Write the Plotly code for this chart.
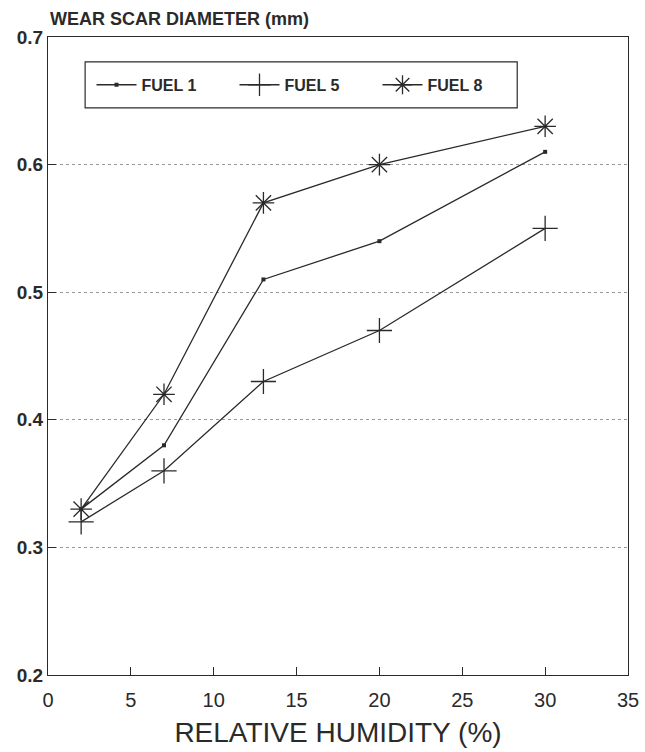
import plotly.graph_objects as go

humidity = [2, 7, 13, 20, 30]
fuel1 = [0.33, 0.38, 0.51, 0.54, 0.61]
fuel5 = [0.32, 0.36, 0.43, 0.47, 0.55]
fuel8 = [0.33, 0.42, 0.57, 0.60, 0.63]
series_names = ["FUEL 1", "FUEL 5", "FUEL 8"]
x_ticks = [0, 5, 10, 15, 20, 25, 30, 35]
y_ticks = [0.2, 0.3, 0.4, 0.5, 0.6, 0.7]

ink = "#2a2a2a"
font_family = "Liberation Sans, Arial, sans-serif"

fig = go.Figure()
fig.add_trace(go.Scatter(
    x=humidity, y=fuel1, name=series_names[0], mode="lines+markers",
    line=dict(color=ink, width=1.3),
    marker=dict(symbol="square", size=4, color=ink)))
fig.add_trace(go.Scatter(
    x=humidity, y=fuel5, name=series_names[1], mode="lines+markers",
    line=dict(color=ink, width=1.3),
    marker=dict(symbol="cross-thin-open", size=18, color=ink, line=dict(color=ink, width=1.3))))
fig.add_trace(go.Scatter(
    x=humidity, y=fuel8, name=series_names[2], mode="lines+markers",
    line=dict(color=ink, width=1.3),
    marker=dict(symbol="asterisk-open", size=18, color=ink, line=dict(color=ink, width=1.3))))

fig.update_layout(
    width=645, height=752,
    margin=dict(l=48, r=17, t=37, b=77),
    paper_bgcolor="white", plot_bgcolor="white",
    font=dict(family=font_family, color=ink),
    showlegend=True,
    legend=dict(
        orientation="h", x=0.075, y=0.925, xanchor="left", yanchor="middle",
        borderwidth=0, bgcolor="rgba(0,0,0,0)",
        font=dict(size=16, family=font_family, weight="bold", color=ink),
        entrywidth=88, itemwidth=40, tracegroupgap=0),
    shapes=[dict(
        type="rect", xref="paper", yref="paper",
        x0=0.064, x1=0.809, y0=0.889, y1=0.961,
        line=dict(color=ink, width=1.2), fillcolor="white", layer="below")],
    xaxis=dict(
        range=[0, 35], tickvals=x_ticks, ticktext=[str(v) for v in x_ticks],
        ticks="inside", ticklen=8, tickcolor=ink, tickwidth=1.2,
        showline=True, linecolor=ink, linewidth=1.2, mirror=True,
        showgrid=False, zeroline=False, ticklabelstandoff=7, automargin=False,
        tickfont=dict(size=20, family=font_family, color=ink),
        title=dict(text="RELATIVE HUMIDITY (%)", font=dict(size=28, family=font_family, color=ink), standoff=12)),
    yaxis=dict(
        range=[0.2, 0.7], tickvals=y_ticks, ticktext=["%.1f" % v for v in y_ticks],
        ticks="inside", ticklen=8, tickcolor=ink, tickwidth=1.2,
        showline=True, linecolor=ink, linewidth=1.2, mirror=True,
        showgrid=True, gridcolor="#999", griddash="dot", gridwidth=1,
        zeroline=False, automargin=False,
        tickfont=dict(size=19, family=font_family, weight="bold", color=ink)),
    annotations=[dict(
        text="WEAR SCAR DIAMETER (mm)", xref="paper", yref="paper",
        x=0, y=1, xanchor="left", yanchor="bottom", yshift=6, showarrow=False,
        font=dict(size=18, family=font_family, weight="bold", color=ink))],
)

fig.write_html("out.html")
